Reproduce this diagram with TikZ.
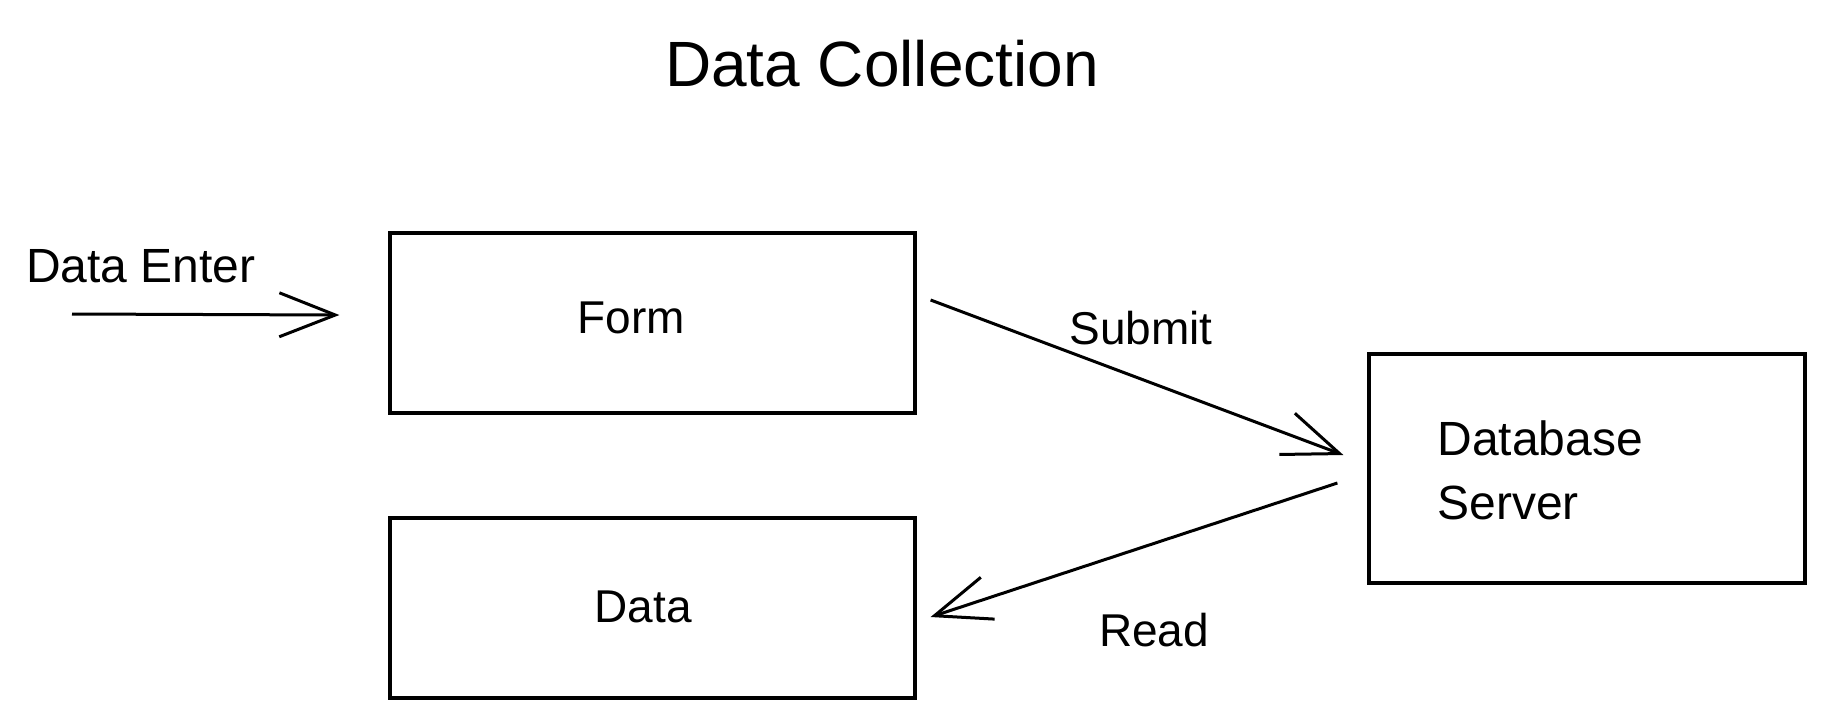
\documentclass[tikz,border=0pt]{standalone}
\usepackage{fontspec}
\setmainfont{Liberation Sans}
\usetikzlibrary{arrows.meta,calc}
\begin{document}
\begin{tikzpicture}[x=0.5pt,y=-0.5pt,
  box/.style={draw=black, line width=1.6pt, rectangle, inner sep=0pt},
  lbl/.style={font=\fontsize{23}{30}\selectfont, text=black, inner sep=0pt},
  arr/.style={line width=1.5pt, -{Straight Barb[length=28pt,width=22pt,line width=1.5pt]}}]
\fill[white] (0,0) rectangle (1824,719);
\useasboundingbox (0,0) rectangle (1824,719);
% title
\node[font=\fontsize{32}{38}\selectfont, inner sep=0pt] (title) at (882,64) {Data Collection};
% boxes
\node[box, minimum width=262.5pt, minimum height=90pt] (form) at (652.5,323) {};
\node[box, minimum width=262.5pt, minimum height=90pt] (data) at (652.5,608) {};
\node[box, minimum width=218pt, minimum height=114.5pt] (db) at (1587,468.5) {};
% texts
\node[lbl] (formtext) at (631,318) {Form};
\node[lbl] (datatext) at (643,607) {Data};
\node[lbl, anchor=west, align=left, font=\fontsize{24}{32}\selectfont] (dbtext) at (1437,470) {Database\\Server};
\node[lbl, font=\fontsize{24}{30}\selectfont] (entertext) at (141,266) {Data Enter};
\node[lbl] (submittext) at (1141,328) {Submit};
\node[lbl] (readtext) at (1154,630) {Read};
% connectors
\coordinate (enterstart) at (72,314);
\draw[arr] (enterstart) -- ($(form.west)+(-49,-8)$);
\draw[arr] ($(form.east)+(14,-23)$) -- ($(db.west)+(-24,-13.5)$);
\draw[arr] ($(db.west)+(-30,14.5)$) -- ($(data.east)+(14,9)$);
\end{tikzpicture}
\end{document}
